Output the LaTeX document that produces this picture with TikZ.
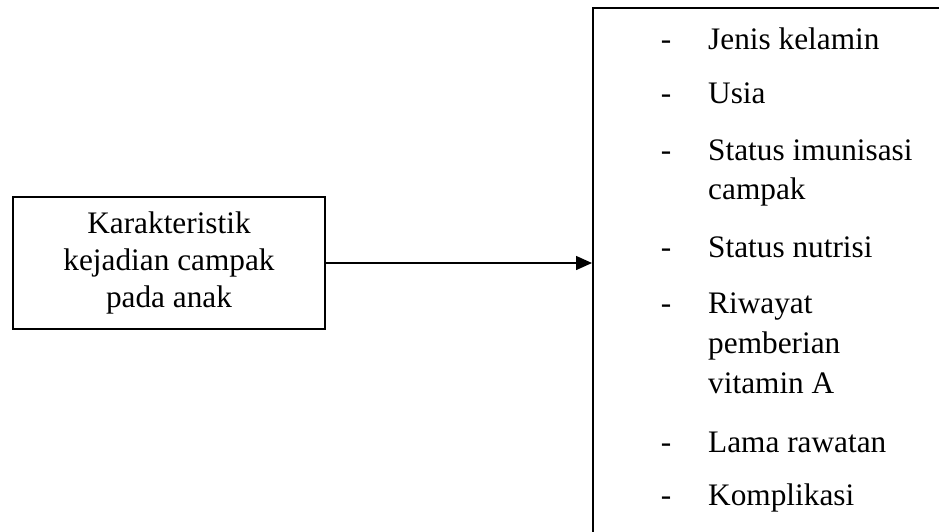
\documentclass[tikz,border=0pt]{standalone}
\usepackage{fontspec}
\setmainfont{Liberation Serif}
\usetikzlibrary{arrows.meta}
\tikzstyle{kotak}=[draw, line width=1.5pt, align=center, inner sep=0pt]
\tikzstyle{butir}=[anchor=base west, inner sep=0pt]
\tikzstyle{strip}=[anchor=base, inner sep=0pt]

\begin{document}
\begin{tikzpicture}[x=1pt,y=-1pt,font=\fontsize{31.3}{37}\selectfont]
  \useasboundingbox (0,0) rectangle (939,531);
  \clip (0,0) rectangle (939,531);
  \node[kotak, minimum width=312pt, minimum height=132pt] at (169,263) (kar) {Karakteristik\\ kejadian campak\\ pada anak};
  \node[kotak, minimum width=380pt, minimum height=560pt, anchor=north west] at (592,7) (var) {};

  \draw[line width=1.5pt, -{Triangle[length=16pt,width=14pt]}] (kar.east) -- (kar.east -| var.west);

  % daftar variabel
  \node[strip] at (666,49) (s1) {-};
  \node[butir] at (708,49) (jenis) {Jenis kelamin};
  \node[strip] at (666,103) (s2) {-};
  \node[butir] at (708,103) (usia) {Usia};
  \node[strip] at (666,160) (s3) {-};
  \node[butir] at (708,160) (imun) {Status imunisasi};
  \node[butir] at (708,199) (imunb) {campak};
  \node[strip] at (666,257) (s4) {-};
  \node[butir] at (708,257) (nutrisi) {Status nutrisi};
  \node[strip] at (666,313) (s5) {-};
  \node[butir] at (708,313) (riwayat) {Riwayat};
  \node[butir] at (708,353) (riwayatb) {pemberian};
  \node[butir] at (708,393) (riwayatc) {vitamin A};
  \node[strip] at (666,452) (s6) {-};
  \node[butir] at (708,452) (lama) {Lama rawatan};
  \node[strip] at (666,505) (s7) {-};
  \node[butir] at (708,505) (komplikasi) {Komplikasi};
\end{tikzpicture}
\end{document}
